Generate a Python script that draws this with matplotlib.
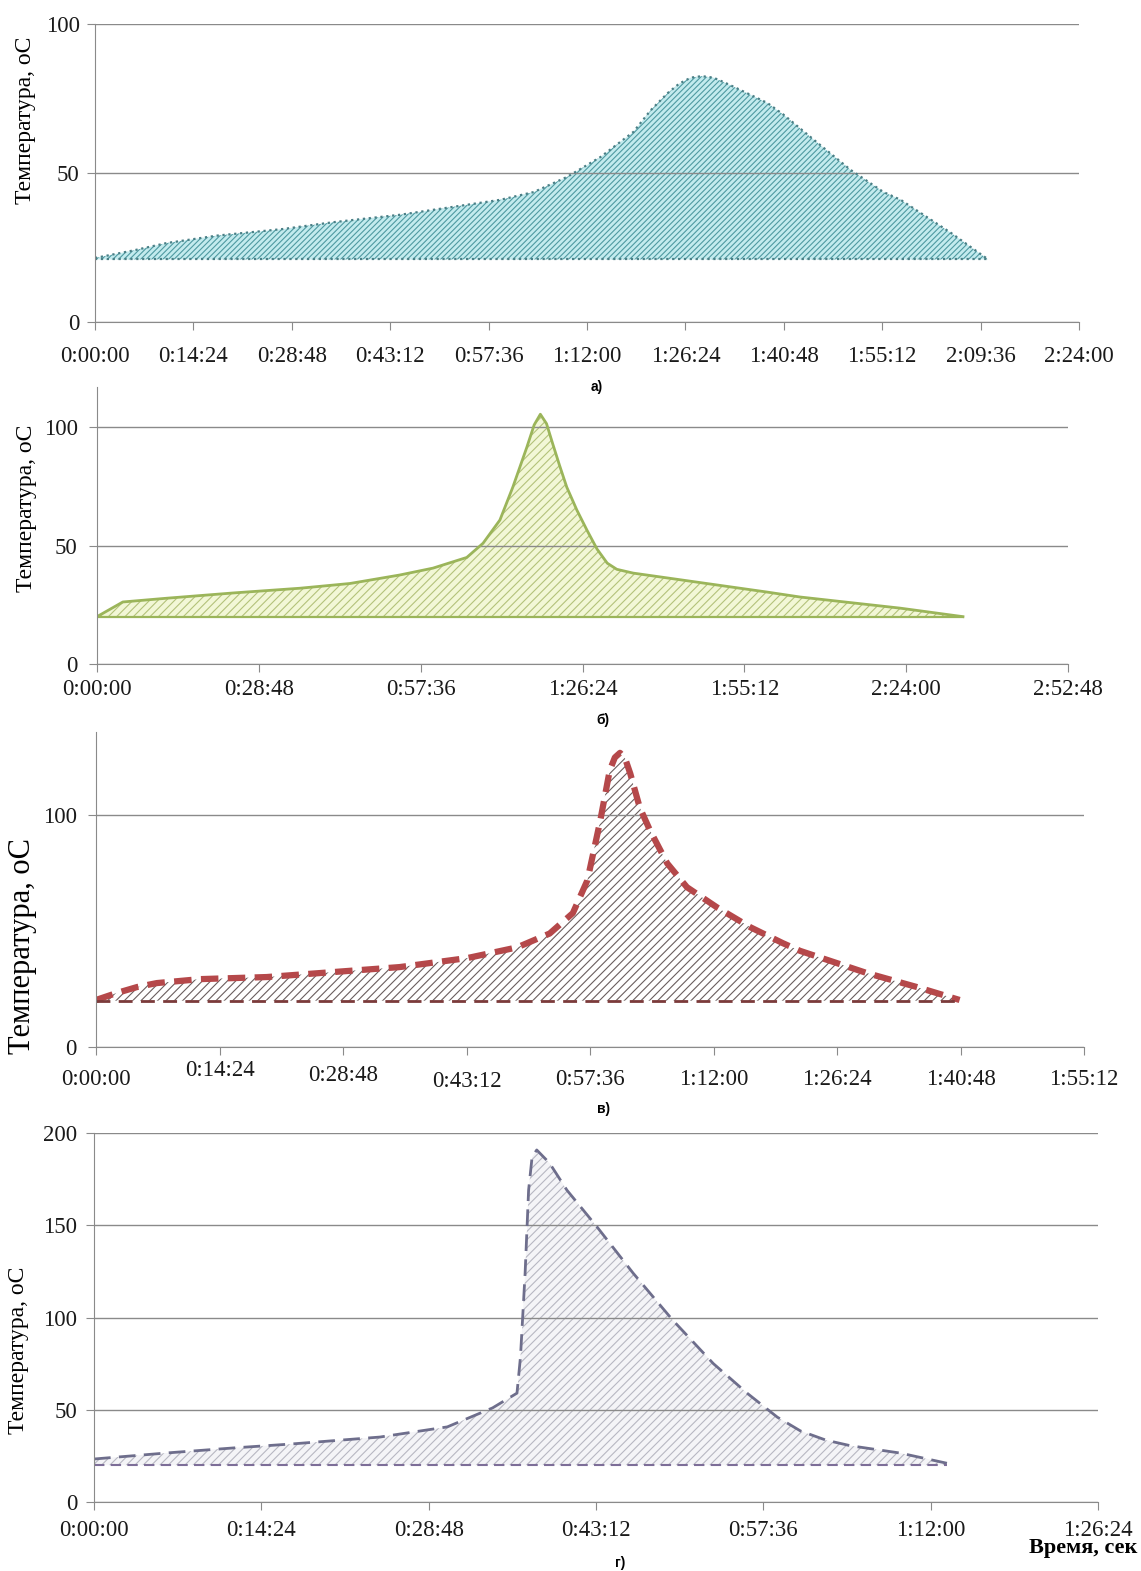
import matplotlib
matplotlib.use("Agg")
import matplotlib.pyplot as plt
from matplotlib.ticker import FuncFormatter, MultipleLocator
from matplotlib.transforms import ScaledTranslation

# time in minutes, temperature in deg C
t_a = [0, 0.7, 5.6, 10.5, 17.9, 27.5, 34.9, 44.7, 59.3, 64.2, 69.1, 74.0, 78.8,
       81.3, 83.8, 85.5, 87.2, 88.8, 90.5, 92.0, 93.5, 98.4, 100.8, 105.8,
       110.6, 115.4, 117.9, 125.2, 130.7]
temp_a = [21.5, 21.8, 24, 26.5, 29, 31.2, 33.5, 36, 41, 43.6, 48.7, 55.4, 63.8,
          71, 76.8, 80, 82, 82.5, 82, 80.5, 78.9, 73.5, 69.5, 60, 51, 43.6, 41,
          30, 21]
base_a = 21

t_b = [0, 4.6, 12.5, 24.2, 36.1, 45.0, 53.9, 59.8, 65.8, 68.7, 71.7, 74.0, 76.5,
       77.8, 78.9, 80.0, 81.1, 82.3, 83.6, 85.4, 87.2, 89.0, 90.8, 92.5, 95.4,
       107.3, 119.2, 125.1, 142.9, 154.1]
temp_b = [20, 26.2, 27.8, 30, 32, 34, 37.6, 40.5, 45, 51, 60.8, 74.7, 91.6,
          101, 105.5, 101.5, 93, 84, 74.7, 65, 56.5, 48.5, 42.6, 40, 38.4, 34.4,
          30.4, 28.3, 23.6, 20]
base_b = 20

t_c = [0, 2.4, 4.8, 7.1, 12.1, 19.9, 35.4, 43.3, 49.1, 52.9, 55.6, 57.3, 58.8,
       59.9, 60.5, 61.1, 61.7, 62.3, 63.4, 64.6, 66.6, 68.9, 72.4, 76.3, 80.1,
       82.1, 89.9, 95.7, 100.7]
temp_c = [20.3, 23.3, 25.9, 27.6, 29.3, 30.2, 34.5, 38.4, 43, 49, 57.8, 72, 97.8,
          119.4, 125, 127, 124.5, 118, 103.4, 93.5, 79.3, 69, 60.3, 51.7, 44.8,
          41.5, 31.9, 25.9, 20.3]
base_c = 20

t_d = [0, 6.3, 12.0, 16.9, 24.6, 30.4, 34.3, 36.4, 36.7, 37.1, 37.4, 37.7, 38.1,
       39.2, 40.7, 43.3, 46.4, 49.8, 53.3, 56.2, 58.8, 60.8, 63.0, 65.1, 69.4,
       73.4]
temp_d = [23.3, 26.6, 29.3, 31.4, 35.2, 40.7, 51, 59, 78.6, 124, 169, 187, 190.8,
          183.7, 169, 149, 124, 98.6, 75, 59, 46, 38.5, 33.5, 30.5, 26.5, 21]
base_d = 20

panel_names = ["а)", "б)", "в)", "г)"]
y_label = "Температура, оС"
x_label = "Время, сек"

W, H = 1141, 1571
plt.rcParams["font.family"] = ["Liberation Serif", "DejaVu Serif"]
plt.rcParams["hatch.linewidth"] = 0.8

fig = plt.figure(figsize=(W / 100, H / 100), dpi=100)


def add_ax(l, t, r, b):
    return fig.add_axes([l / W, 1 - b / H, (r - l) / W, (b - t) / H])


def hms(v, pos):
    s = int(round(v * 60))
    return f"{s // 3600}:{s % 3600 // 60:02d}:{s % 60:02d}"


def style(ax, xmax, xstep, ymax, ystep, xpad, ypad):
    ax.set_xlim(0, xmax)
    ax.set_ylim(0, ymax)
    ax.xaxis.set_major_locator(MultipleLocator(xstep))
    ax.yaxis.set_major_locator(MultipleLocator(ystep))
    ax.xaxis.set_major_formatter(FuncFormatter(hms))
    for s in ["top", "right"]:
        ax.spines[s].set_visible(False)
    for s in ["left", "bottom"]:
        ax.spines[s].set_color("#8a8a8a")
    ax.tick_params(axis="both", colors="#8a8a8a", labelcolor="#1a1a1a",
                   length=6, labelsize=16.5)
    ax.tick_params(axis="x", pad=xpad)
    ax.tick_params(axis="y", pad=ypad)
    ax.grid(axis="y", color="#8a8a8a", lw=1)
    ax.set_axisbelow("line")


def ylab(x, y, size):
    fig.text(x / W, 1 - y / H, y_label, rotation=90, fontsize=size,
             ha="center", va="center")


def panel(x, y, name):
    fig.text(x / W, 1 - y / H, name, fontsize=10, fontweight="bold",
             family="Liberation Sans", ha="center", va="center")


# а)
ax = add_ax(95, 24, 1079, 322)
ax.fill_between(t_a, base_a, temp_a, facecolor="#c3ebee", edgecolor="#4f9aa1",
                linewidth=0, hatch="//////", zorder=0.5)
ax.plot(t_a, temp_a, color="#4a7f86", lw=1.6, ls=":")
ax.plot([t_a[0], t_a[-1]], [base_a, base_a], color="#4a7f86", lw=1.6, ls=":")
style(ax, 144, 14.4, 100, 50, 11, 5)
ylab(26, 120, 17)
panel(597, 387, panel_names[0])

# б)
ax = add_ax(97, 387, 1068, 664)
ax.fill_between(t_b, base_b, temp_b, facecolor="#f2f7d6", edgecolor="#b3c27a",
                linewidth=0, hatch="////", zorder=0.5)
ax.plot(t_b, temp_b, color="#9bb55a", lw=2)
ax.plot([t_b[0], t_b[-1]], [base_b, base_b], color="#9bb55a", lw=1.6)
style(ax, 172.8, 28.8, 117, 50, 5, 8)
ylab(27, 508, 17)
panel(603, 720, panel_names[1])

# в)
ax = add_ax(96, 732, 1084, 1047)
ax.fill_between(t_c, base_c, temp_c, facecolor="white", edgecolor="#6a5e5e",
                linewidth=0, hatch="////", zorder=0.5)
ax.plot(t_c, temp_c, color="#b5484a", lw=4.5, ls=(0, (2.8, 1.5)))
ax.plot([t_c[0], t_c[-1]], [base_c, base_c], color="#7b3a3a", lw=2,
        ls=(0, (5, 3)))
style(ax, 115.2, 14.4, 136, 100, 10, 8)
ylab(23, 946, 22)
panel(604, 1109, panel_names[2])
# staggered tick labels as in the source (pixels up, by tick position)
shifts = {14.4: 9, 28.8: 4, 43.2: -2}
locs = ax.xaxis.get_majorticklocs()
for loc, tk in zip(locs, ax.xaxis.get_major_ticks(len(locs))):
    dy = shifts.get(round(float(loc), 1), 0)
    if dy:
        lab = tk.label1
        lab.set_transform(lab.get_transform() +
                          ScaledTranslation(0, dy / 100, fig.dpi_scale_trans))

# г)
ax = add_ax(94, 1133, 1098, 1502)
ax.fill_between(t_d, base_d, temp_d, facecolor="#f4f4f7", edgecolor="#b7b7c2",
                linewidth=0, hatch="////", zorder=0.5)
ax.plot(t_d, temp_d, color="#6e6e8c", lw=2, ls=(0, (6, 3)))
ax.plot([t_d[0], t_d[-1]], [base_d, base_d], color="#7d6e98", lw=1.5,
        ls=(0, (5, 3)))
style(ax, 86.4, 14.4, 200, 50, 7, 6)
ylab(19, 1350, 17)
panel(620, 1563, panel_names[3])
fig.text(1137 / W, 1 - 1548 / H, x_label, fontsize=16, fontweight="bold",
         ha="right", va="center")

fig.savefig("out.png", dpi=100)
